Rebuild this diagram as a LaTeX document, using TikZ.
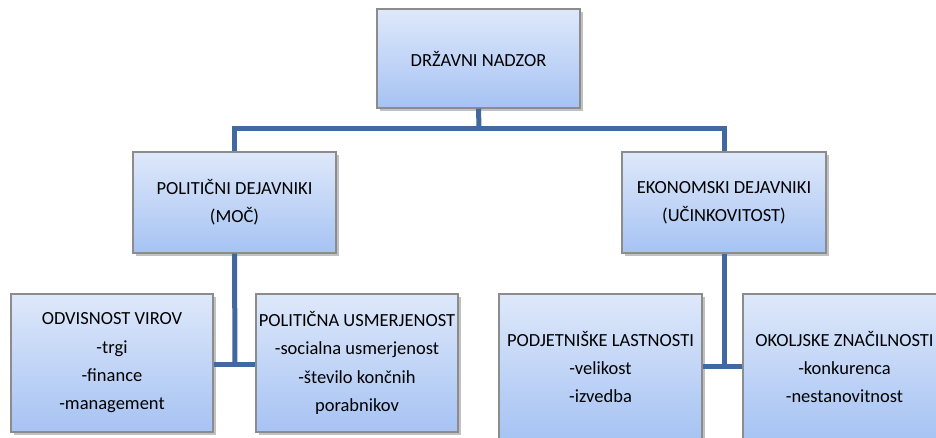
\documentclass[tikz,border=0pt]{standalone}
\usepackage{fontspec}
\setmainfont{Carlito}
\usetikzlibrary{shadows}
\definecolor{conncol}{HTML}{4169A0}
\definecolor{boxtop}{HTML}{DEE8FA}
\definecolor{boxbot}{HTML}{A6C3F3}
\definecolor{boxline}{HTML}{8C8C8C}
\tikzset{
  orgbox/.style={rectangle, draw=boxline, line width=1.1pt, top color=boxtop, bottom color=boxbot,
    align=center, inner sep=0pt, font=\fontsize{18.5}{28.3}\selectfont,
    drop shadow={shadow xshift=2.5pt, shadow yshift=-2.5pt, opacity=0.35, fill=black!70}},
  conn/.style={draw=conncol, line width=5pt, line join=miter}
}
\begin{document}
\begin{tikzpicture}[x=1pt,y=-1pt]
\useasboundingbox (0,0) rectangle (936,437);
\clip (0,0) rectangle (936,437);
% junction coordinates
\coordinate (tj) at (479,128);
\coordinate (lj) at (235,364.5);
\coordinate (rj) at (724,366.5);
\node[orgbox, minimum width=203pt, minimum height=99pt] (top) at (478.5,58.5) {DRŽAVNI NADZOR};
\node[orgbox, minimum width=203pt, minimum height=101pt] (pol) at (234.5,202.5) {POLITIČNI DEJAVNIKI\\(MOČ)};
\node[orgbox, minimum width=204pt, minimum height=101pt] (eko) at (724,202.5) {EKONOMSKI DEJAVNIKI\\(UČINKOVITOST)};
\node[orgbox, minimum width=202pt, minimum height=138pt] (odv) at (112,363) {ODVISNOST VIROV\\-trgi\\-finance\\-management};
\node[orgbox, minimum width=202pt, minimum height=138pt] (pus) at (357,363) {POLITIČNA USMERJENOST\\-socialna usmerjenost\\-število končnih\\porabnikov};
\node[orgbox, minimum width=203pt, minimum height=146pt] (pod) at (600.5,367) {PODJETNIŠKE LASTNOSTI\\-velikost\\-izvedba};
\node[orgbox, minimum width=203pt, minimum height=146pt] (oko) at (844.5,367) {OKOLJSKE ZNAČILNOSTI\\-konkurenca\\-nestanovitnost};
\draw[conn] (top.south) -- (tj);
\draw[conn] (pol.north) |- (tj) -| (eko.north);
\draw[conn] (pol.south) -- (lj);
\draw[conn] (odv.east |- lj) -- (pus.west |- lj);
\draw[conn] (eko.south) -- (rj);
\draw[conn] (pod.east |- rj) -- (oko.west |- rj);
\end{tikzpicture}
\end{document}
